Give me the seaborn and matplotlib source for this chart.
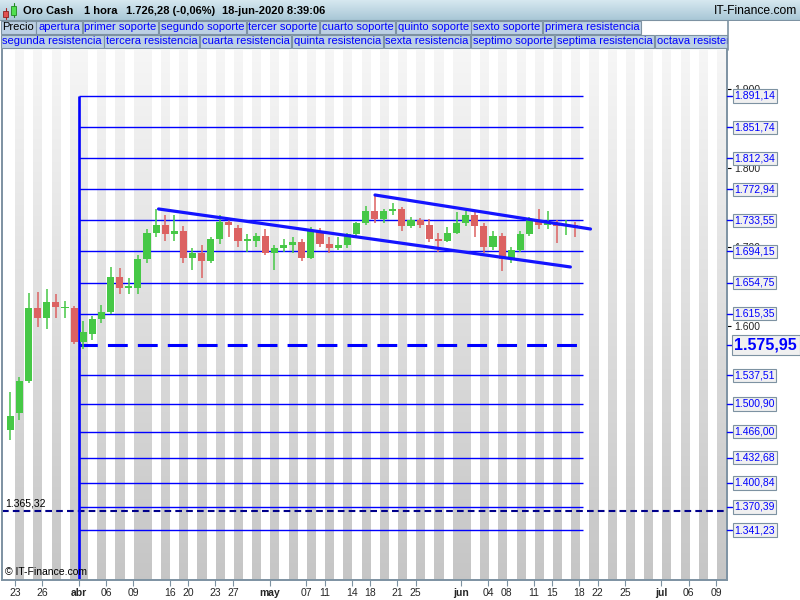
import numpy as np
import pandas as pd
import matplotlib
matplotlib.use("Agg")
import matplotlib.pyplot as plt
import matplotlib.transforms as mtransforms
from matplotlib.patches import Rectangle
from matplotlib.ticker import FuncFormatter
import seaborn as sns

# ---------------------------------------------------------------------------
# data
# ---------------------------------------------------------------------------
# trading days on the time axis (Good Friday 10-abr is not there)
dias = pd.bdate_range("2020-03-20", "2020-07-10")
dias = dias[dias != pd.Timestamp("2020-04-10")]

# one candle per day, 20-mar .. 17-jun
apertura = [1468, 1490, 1530, 1622, 1610, 1630, 1622, 1622, 1580, 1590,
            1608, 1618, 1662, 1648, 1648, 1684, 1718, 1728, 1716, 1720,
            1686, 1692, 1682, 1710, 1732, 1724, 1708, 1708, 1714, 1692,
            1698, 1702, 1706, 1686, 1720, 1704, 1698, 1702, 1716, 1730,
            1745, 1735, 1745, 1748, 1726, 1734, 1728, 1710, 1708, 1718,
            1730, 1740, 1726, 1700, 1714, 1684, 1696, 1716, 1734, 1728,
            1730, 1726, 1728]
maximo = [1516, 1535, 1641, 1643, 1646, 1640, 1632, 1625, 1606, 1612,
          1626, 1674, 1673, 1660, 1690, 1722, 1748, 1740, 1740, 1726,
          1698, 1702, 1712, 1740, 1736, 1728, 1716, 1718, 1722, 1702,
          1710, 1712, 1710, 1725, 1724, 1712, 1712, 1718, 1732, 1752,
          1766, 1748, 1756, 1750, 1738, 1737, 1735, 1718, 1725, 1744,
          1746, 1745, 1730, 1720, 1718, 1700, 1720, 1738, 1748, 1745,
          1734, 1734, 1732]
minimo = [1455, 1480, 1528, 1598, 1596, 1610, 1610, 1577, 1571, 1582,
          1604, 1615, 1640, 1640, 1640, 1680, 1712, 1708, 1708, 1680,
          1671, 1660, 1680, 1704, 1712, 1700, 1693, 1700, 1690, 1671,
          1693, 1692, 1682, 1685, 1700, 1692, 1696, 1698, 1712, 1728,
          1730, 1730, 1740, 1720, 1724, 1724, 1706, 1693, 1706, 1716,
          1726, 1712, 1692, 1696, 1670, 1680, 1694, 1714, 1722, 1722,
          1705, 1715, 1712]
cierre = [1486, 1530, 1622, 1610, 1630, 1624, 1622, 1580, 1592, 1608,
          1618, 1662, 1648, 1650, 1684, 1718, 1728, 1716, 1720, 1686,
          1692, 1682, 1710, 1732, 1728, 1708, 1708, 1714, 1692, 1698,
          1702, 1706, 1686, 1720, 1704, 1698, 1702, 1716, 1730, 1745,
          1735, 1745, 1748, 1726, 1734, 1728, 1710, 1708, 1718, 1730,
          1740, 1726, 1700, 1714, 1684, 1696, 1716, 1734, 1728, 1730,
          1726, 1728, 1726]

# horizontal levels (right-hand labels)
niveles = [1891.14, 1851.74, 1812.34, 1772.94, 1733.55, 1694.15, 1654.75,
           1615.35, 1575.95, 1537.51, 1500.90, 1466.00, 1432.68, 1400.84,
           1370.39, 1341.23]
pivote = 1575.95
soporte_min = 1365.32
niveles_desde = "2020-04-01 00:00"
niveles_hasta = "2020-06-18 08:39"

# two trend lines
tendencia_linea = ["a", "a", "b", "b"]
tendencia_fecha = ["2020-04-14 18:30", "2020-06-17 00:00",
                   "2020-05-18 13:00", "2020-06-19 05:00"]
tendencia_precio = [1748.0, 1674.5, 1765.7, 1722.6]

# price ticks that peek out behind the level labels
precios_eje = [1600, 1700, 1800, 1900]

marcas_fecha = ["2020-03-23", "2020-03-26", "2020-04-01", "2020-04-06",
                "2020-04-09", "2020-04-16", "2020-04-20", "2020-04-23",
                "2020-04-27", "2020-05-01", "2020-05-07", "2020-05-11",
                "2020-05-14", "2020-05-18", "2020-05-21", "2020-05-25",
                "2020-06-01", "2020-06-04", "2020-06-08", "2020-06-11",
                "2020-06-15", "2020-06-18", "2020-06-22", "2020-06-25",
                "2020-07-01", "2020-07-06", "2020-07-09"]
marcas_texto = ["23", "26", "abr", "06", "09", "16", "20", "23", "27", "may",
                "07", "11", "14", "18", "21", "25", "jun", "04", "08", "11",
                "15", "18", "22", "25", "jul", "06", "09"]
meses = ["abr", "may", "jun", "jul"]

fila1 = ["Precio", "apertura", "primer soporte", "segundo soporte",
         "tercer soporte", "cuarto soporte", "quinto soporte",
         "sexto soporte", "primera resistencia"]
fila2 = ["segunda resistencia", "tercera resistencia", "cuarta resistencia",
         "quinta resistencia", "sexta resistencia", "septimo soporte",
         "septima resistencia", "octava resistencia"]

titulo = ["Oro Cash", "1 hora", "1.726,28 (-0,06%)", "18-jun-2020 8:39:06"]


def posicion(ts):
    ts = pd.Timestamp(ts)
    dia = ts.normalize()
    return dias.get_loc(dia) + (ts - dia) / pd.Timedelta(hours=24)


def numero_es(v, dec=2):
    s = f"{v:,.{dec}f}"
    return s.replace(",", "X").replace(".", ",").replace("X", ".")


# ---------------------------------------------------------------------------
sns.set_style("white")
plt.rcParams["font.family"] = ["Liberation Sans", "DejaVu Sans"]

AZUL = "#0000ff"
MARCO = "#7d92a2"
VERDE = "#46c846"
ROJO = "#dc6262"

fig = plt.figure(figsize=(8, 6), dpi=100)
ax = fig.add_axes([0.0025, 20 / 600, 727 / 800 - 0.0025, 530 / 600])

y_lo, y_hi = 1277.9, 1949.4
x_lo, x_hi = -0.42, 79.2

# striped background: odd calendar days grey with a vertical gradient
n = len(dias)
grad = np.linspace(0.965, 0.775, 256)
fondo = np.ones((256, n, 3))
for j, d in enumerate(dias):
    if d.day % 2 == 1:
        fondo[:, j, :] = grad[:, None]
ax.imshow(fondo, extent=[0, n, y_lo, y_hi], aspect="auto",
          interpolation="nearest", origin="upper", zorder=0)

# candles
velas = pd.DataFrame({"fecha": dias[:len(apertura)], "o": apertura,
                      "h": maximo, "l": minimo, "c": cierre})
velas["x"] = np.arange(len(velas)) + 0.5
colores = np.where(velas["c"] >= velas["o"], VERDE, ROJO)
ax.vlines(velas["x"], velas["l"], velas["h"], colors=colores, lw=1.1, zorder=3)
ax.bar(velas["x"], (velas["c"] - velas["o"]).abs().clip(lower=1.5),
       bottom=velas[["o", "c"]].min(axis=1), width=0.78, color=colores,
       linewidth=0, zorder=3)

# levels
x_ini = posicion(niveles_desde)
x_fin = posicion(niveles_hasta)
otros = [v for v in niveles if v != pivote]
ax.hlines(otros, x_ini, x_fin, colors=AZUL, lw=1.0, zorder=2)
ax.plot([x_ini, x_fin], [pivote, pivote], color=AZUL, lw=2.2,
        ls=(0.5, (6.5, 3.3)), zorder=2)
ax.axhline(soporte_min, color="#00008b", lw=1.5, ls=(0, (3.2, 2.0)), zorder=2)
ax.vlines([x_ini], y_lo, niveles[0], colors=AZUL, lw=1.9, zorder=2)

# trend lines
tend = pd.DataFrame({"linea": tendencia_linea,
                     "x": [posicion(t) for t in tendencia_fecha],
                     "precio": tendencia_precio})
sns.lineplot(data=tend, x="x", y="precio", units="linea", estimator=None,
             color="#1414ff", lw=2.3, ax=ax, legend=False, zorder=4)

ax.set_xlim(x_lo, x_hi)
ax.set_ylim(y_lo, y_hi)
ax.set_xlabel("")
ax.set_ylabel("")

# axes frame
for lado in ["left", "right", "bottom"]:
    ax.spines[lado].set_color(MARCO)
    ax.spines[lado].set_linewidth(1.4)
ax.spines["top"].set_visible(False)

# x ticks
ax.set_xticks([dias.get_loc(pd.Timestamp(f)) for f in marcas_fecha])
ax.set_xticklabels(marcas_texto)
ax.tick_params(axis="x", length=4, width=0.8, color=MARCO, pad=1.5,
               labelsize=7.5, bottom=True)
for t in ax.get_xticklabels():
    if t.get_text() in meses:
        t.set_fontweight("bold")

# y ticks (right)
ax.yaxis.tick_right()
ax.set_yticks(precios_eje)
ax.yaxis.set_major_formatter(FuncFormatter(lambda v, _: numero_es(v, 0)))
ax.tick_params(axis="y", length=3, width=0.8, color="black", pad=2,
               labelsize=7.5, right=True)

# level labels on the right
borde = mtransforms.blended_transform_factory(ax.transAxes, ax.transData)
for v in niveles:
    grande = v == pivote
    ax.plot([1.0, 1.007], [v, v], color=AZUL, lw=1, transform=borde,
            clip_on=False, zorder=6)
    ax.annotate(numero_es(v), xy=(1.0, v), xycoords=borde,
                xytext=(5.3, 0), textcoords="offset points",
                ha="left", va="center", color=AZUL,
                fontsize=11.5 if grande else 7.5,
                fontweight="bold" if grande else "normal",
                bbox=dict(boxstyle="square,pad=0.15", fc="#f0f0f0",
                          ec=MARCO, lw=0.8),
                annotation_clip=False, zorder=7)

ax.annotate(numero_es(soporte_min), xy=(0.0, soporte_min), xycoords=borde,
            xytext=(2, 1.5), textcoords="offset points", ha="left",
            va="bottom", fontsize=7.5, color="black", zorder=5)
ax.text(0.004, 0.006, "© IT-Finance.com", transform=ax.transAxes,
        ha="left", va="bottom", fontsize=7.5, color="black", zorder=5)

# ---------------------------------------------------------------------------
# header (pixel coordinates)
# ---------------------------------------------------------------------------
hd = fig.add_axes([0, 0, 1, 1], zorder=5)
hd.set_xlim(0, 800)
hd.set_ylim(600, 0)
hd.axis("off")

barra = np.linspace([0.84, 0.91, 0.94], [0.66, 0.78, 0.84], 64)[:, None, :]
hd.imshow(barra, extent=[0, 800, 20, 0], aspect="auto", zorder=1)
hd.plot([0, 800], [20, 20], color=MARCO, lw=0.8, zorder=2)

# little candle icon
hd.plot([5.5, 5.5], [8, 19], color="#aa2222", lw=0.8, zorder=3)
hd.add_patch(Rectangle((3, 11), 5, 6, fc="#e05050", ec="#882222", lw=0.6,
                       zorder=4))
hd.plot([13.5, 13.5], [3, 17], color="#228822", lw=0.8, zorder=3)
hd.add_patch(Rectangle((11, 6), 5, 9, fc="#50e050", ec="#228822", lw=0.6,
                       zorder=4))

for texto, xp in zip(titulo, [23, 84, 126, 222]):
    hd.text(xp, 11, texto, fontsize=8, fontweight="bold", color="black",
            ha="left", va="center", zorder=3)
hd.text(797, 11, "IT-Finance.com", fontsize=8.7, color="black",
        ha="right", va="center", zorder=3)

renderer = fig.canvas.get_renderer()
for fila, y0 in [(fila1, 20.5), (fila2, 34.5)]:
    x = 0.5
    for nombre in fila:
        t = hd.text(x + 1.8, y0 + 7, nombre, fontsize=8,
                    color="black" if nombre == "Precio" else AZUL,
                    ha="left", va="center", zorder=4)
        w = t.get_window_extent(renderer).width
        hd.add_patch(Rectangle((x, y0), w + 3.4, 13, fc="#bcd0e4", ec=MARCO,
                               lw=0.8, zorder=3))
        x += w + 4.2
hd.add_patch(Rectangle((727.5, 20.5), 73, 29.5, fc="white", ec="none",
                       zorder=5))
hd.plot([727.5, 727.5], [20.5, 50], color=MARCO, lw=1.2, zorder=6)

fig.savefig("out.png", dpi=100, facecolor="white")
